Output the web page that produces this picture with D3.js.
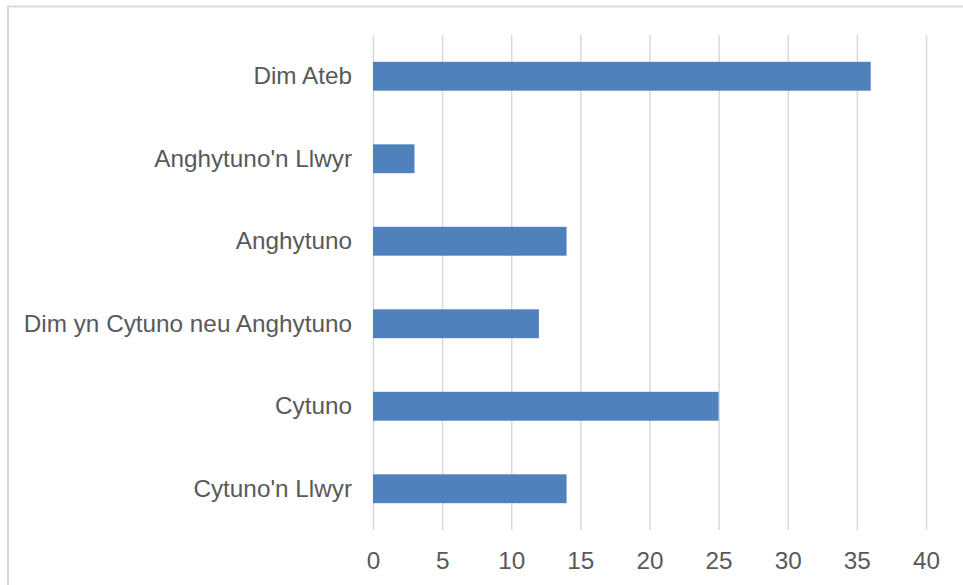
<!DOCTYPE html>
<html>
<head>
<meta charset="utf-8">
<script src="https://cdn.jsdelivr.net/npm/d3@7"></script>
<style>
  html, body { margin: 0; padding: 0; background: #fff; overflow: hidden; }
  svg { display: block; }
</style>
</head>
<body>
<figure style="margin:0"></figure>
<script>
const categories = ["Dim Ateb", "Anghytuno'n Llwyr", "Anghytuno", "Dim yn Cytuno neu Anghytuno", "Cytuno", "Cytuno'n Llwyr"];
const values = [36, 3, 14, 12, 25, 14];
const xTicks = [0, 5, 10, 15, 20, 25, 30, 35, 40];

(() => {
  const totalWidth = 963;
  const totalHeight = 585;
  const margin = {top: 35, right: 37, bottom: 55, left: 373};
  const graphWidth = totalWidth - margin.left - margin.right;
  const graphHeight = totalHeight - margin.top - margin.bottom;

  const svg = d3.select('figure').append('svg')
    .attr('width', totalWidth)
    .attr('height', totalHeight)
    .style('font-family', '"Liberation Sans", Arial, sans-serif');

  // chart border (only top and left edges fall inside the window)
  svg.append('rect')
    .attr('x', 8).attr('y', 6.5)
    .attr('width', 1000).attr('height', 1000)
    .attr('fill', 'none')
    .attr('stroke', '#d9d9d9')
    .attr('stroke-width', 2);

  const g = svg.append('g').attr('transform', 'translate(' + margin.left + ',' + margin.top + ')');

  const x = d3.scaleLinear()
    .domain([0, 40])
    .range([0, graphWidth]);

  const y = d3.scaleBand()
    .domain(categories)
    .range([0, graphHeight])
    .paddingInner(0.65)
    .paddingOuter(0.325);

  const xAxis = g.append('g')
    .attr('transform', 'translate(0,' + graphHeight + ')')
    .call(d3.axisBottom(x).tickValues(xTicks).tickSizeInner(-graphHeight).tickSizeOuter(0).tickPadding(22));
  xAxis.select('.domain').remove();
  xAxis.selectAll('.tick line').attr('stroke', '#d9d9d9').attr('stroke-width', 1.5);
  xAxis.selectAll('.tick text').attr('fill', '#595959').style('font-size', '24.3px');

  g.selectAll('rect.bar')
    .data(values)
    .join('rect')
      .attr('class', 'bar')
      .attr('x', x(0))
      .attr('y', (d, i) => y(categories[i]))
      .attr('width', (d) => x(d) - x(0))
      .attr('height', y.bandwidth())
      .attr('fill', '#4f81bd');

  const yAxis = g.append('g')
    .call(d3.axisLeft(y).tickSize(0).tickPadding(21));
  yAxis.select('.domain').remove();
  yAxis.selectAll('.tick text').attr('fill', '#595959').style('font-size', '24.3px');
})();
</script>
</body>
</html>
